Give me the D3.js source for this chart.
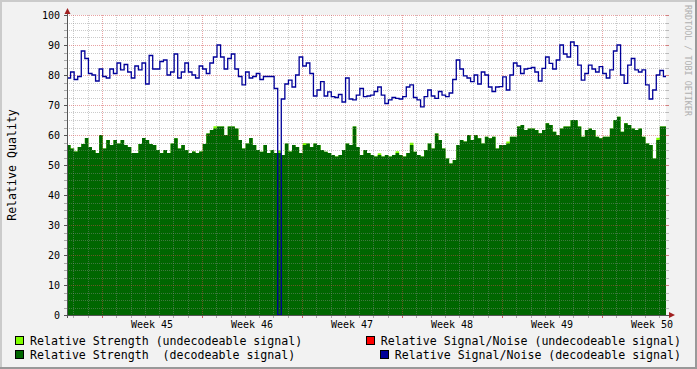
<!DOCTYPE html>
<html>
<head>
<meta charset="utf-8">
<script src="https://cdn.jsdelivr.net/npm/d3@7"></script>
<style>
  html, body { margin: 0; padding: 0; background: #f2f2f2; }
  svg { display: block; }
  text { font-family: "DejaVu Sans Mono", monospace; white-space: pre; }
</style>
</head>
<body>
<div id="container"></div>
<script>
"use strict";

// samples every 6 hours, starting Fri 31 Oct 13:12 UTC
const startTime = new Date(Date.UTC(2008, 9, 31, 13, 12));
const stepHours = 6;

const strengthDecodeable = [
  56.7, 55.5, 54.5, 56, 57, 59, 56, 55, 54, 60, 55.5, 58.3, 56.7, 58.3, 57.2, 58.3, 56.7, 56, 54, 54, 57, 59, 58.3, 57, 56.7, 55, 54, 55,
  54, 57.2, 58.9, 55.5, 56.7, 55, 54, 54.5, 54, 54.5, 57, 60.5, 61.7, 62.2, 62.8, 62.8, 60, 62.8, 62.8, 62.2, 58.3, 55.5, 57.2, 59, 56.7, 55, 54.4, 56.7,
  54, 55, 54, 54, 53.3, 57.2, 54.5, 56.7, 56, 54, 56.7, 57.2, 56, 57.2, 56.7, 55, 54.4, 54, 53.3, 52.8, 53.3, 55, 57.2, 56.7, 62.8, 56, 53.3, 55,
  54, 53.3, 52.8, 53.3, 52.8, 53.3, 52.8, 53.3, 54, 53.3, 52.8, 54, 56.7, 54.4, 53.3, 52.8, 55, 57.2, 55.5, 60.5, 58.3, 55.5, 52.2, 50.5, 51.7, 56.7, 58.3, 57.8,
  60, 58.3, 60, 58.9, 57.2, 59.4, 58.9, 59.4, 55.5, 56.7, 56.7, 57.2, 59.4, 59.4, 62.8, 63.3, 61.7, 62.2, 62.2, 61.7, 60.6, 61.7, 63.9, 63.3, 61.1, 60, 62.2, 62.8,
  62.8, 65, 65, 62.8, 59.4, 61.7, 62.2, 61.7, 59.4, 58.9, 59.4, 59.4, 62.2, 65, 66.1, 61.1, 63.9, 63.3, 62.2, 61.7, 62.2, 59.4, 57.2, 56.7, 52.2, 58.3, 62.8, 62.8
];

// [sample index, extra amount stacked on top of the decodeable strength]
const strengthUndecodeable = [[41, 0.7], [59, 0.8], [66, 0.6], [87, 0.6], [92, 0.6], [96, 0.7], [123, 0.6], [165, 0.8]];

const snDecodeable = [
  79, 81, 78.5, 79.5, 88, 85.5, 80.5, 80, 78, 82, 79.5, 79, 82, 80.5, 84, 81.7, 83.5, 81, 79, 83, 81.7, 84, 77, 86.5, 82, 82, 84.5, 85,
  80, 81, 87, 79, 81, 84, 81, 80, 79, 83, 82, 80.5, 84, 86, 90, 86, 82, 85.5, 87, 82, 79.5, 76.7, 81, 79, 79.5, 80.5, 78.5, 79.5,
  79.5, 79.5, 75.5, 0, 72, 77, 78.3, 76, 80, 86, 83, 84, 80.5, 73, 75, 77.8, 73, 74.4, 72.8, 72.5, 73.5, 71, 79, 72, 71.7, 73.3, 75.5, 72.8,
  73, 73.3, 74.5, 76, 73.3, 70.5, 71.7, 72.5, 72.2, 72, 72.8, 76, 76.7, 72.5, 71.7, 69.4, 72.8, 75, 73, 72.2, 74.5, 73.3, 72.8, 74, 78.5, 85, 82, 79.7,
  79, 77.8, 80, 77, 81, 80, 76, 74.5, 76, 76.1, 79.4, 75, 80, 84, 83, 80.5, 82, 82.2, 82.5, 81, 78, 82.2, 86, 83.9, 82, 85, 90, 87,
  86, 91, 89.8, 83.3, 78.3, 80.5, 83.3, 82, 81, 82.8, 80.5, 79, 81.7, 88, 90, 80, 77.2, 83.3, 85.5, 81.7, 81, 81.7, 76.7, 72, 75, 80, 81.5, 79.5
];

const yTicks = [0, 10, 20, 30, 40, 50, 60, 70, 80, 90, 100];
const yMinorStep = 2.5;

const legendLeft = [
  { label: "Relative Strength (undecodeable signal)", color: "#80ff00" },
  { label: "Relative Strength  (decodeable signal)", color: "#006600" }
];
const legendRight = [
  { label: "Relative Signal/Noise (undecodeable signal)", color: "#ff0000" },
  { label: "Relative Signal/Noise (decodeable signal)", color: "#000099" }
];

const width = 697;
const height = 369;
const plot = { left: 67, right: 666, top: 15, bottom: 315 };

const svg = d3.select("#container")
  .append("svg")
  .attr("width", width)
  .attr("height", height);

// background with 3d-ish border
svg.append("rect").attr("width", width).attr("height", height).attr("fill", "#f2f2f2");
svg.append("path").attr("d", `M0,1H${width} M1,0V${height}`).attr("stroke", "#cbcbcb").attr("stroke-width", 2);
svg.append("path").attr("d", `M0,${height - 1}H${width} M${width - 1},0V${height}`).attr("stroke", "#999").attr("stroke-width", 2);

const hour = 3600 * 1000;
const endTime = new Date(+startTime + strengthDecodeable.length * stepHours * hour);
const timeOf = (i) => new Date(+startTime + i * stepHours * hour);

const x = d3.scaleUtc().domain([startTime, endTime]).range([plot.left, plot.left + 600]);
const y = d3.scaleLinear().domain([0, 100]).range([plot.bottom, plot.top]);

svg.append("rect")
  .attr("x", plot.left).attr("y", plot.top)
  .attr("width", plot.right - plot.left).attr("height", plot.bottom - plot.top)
  .attr("fill", "#ffffff");

svg.append("clipPath").attr("id", "clip")
  .append("rect")
  .attr("x", plot.left).attr("y", plot.top - 2)
  .attr("width", plot.right - plot.left).attr("height", plot.bottom - plot.top + 2);

const g = svg.append("g").attr("clip-path", "url(#clip)");

// step data, with a closing point so the last sample gets its width
const toSteps = (arr) => {
  const pts = arr.map((v, i) => ({ t: timeOf(i), v: v }));
  pts.push({ t: endTime, v: arr[arr.length - 1] });
  return pts;
};

const extra = new Map(strengthUndecodeable);
const strengthTotal = strengthDecodeable.map((v, i) => v + (extra.get(i) || 0));

const area = d3.area()
  .x((d) => x(d.t))
  .y0(y(0))
  .y1((d) => y(d.v))
  .curve(d3.curveStepAfter);

g.append("path").datum(toSteps(strengthTotal)).attr("d", area).attr("fill", "#80ff00");
g.append("path").datum(toSteps(strengthDecodeable)).attr("d", area).attr("fill", "#006600");

// grid on top of the areas
const minorColor = "rgba(140,140,140,0.45)";
const majorColor = "rgba(210,70,70,0.5)";

const yMinor = d3.range(0, 100 + 0.001, yMinorStep).filter((v) => v % 10 !== 0);
g.selectAll("line.yminor").data(yMinor).enter().append("line")
  .attr("x1", plot.left).attr("x2", plot.right)
  .attr("y1", (d) => Math.round(y(d)) + 0.5).attr("y2", (d) => Math.round(y(d)) + 0.5)
  .attr("stroke", minorColor).attr("stroke-dasharray", "1,1");

const days = d3.utcDay.range(startTime, endTime).filter((d) => d.getUTCDay() !== 1);
g.selectAll("line.xminor").data(days).enter().append("line")
  .attr("x1", (d) => Math.round(x(d)) + 0.5).attr("x2", (d) => Math.round(x(d)) + 0.5)
  .attr("y1", plot.top).attr("y2", plot.bottom)
  .attr("stroke", minorColor).attr("stroke-dasharray", "1,1");

g.selectAll("line.ymajor").data(yTicks.slice(1)).enter().append("line")
  .attr("x1", plot.left).attr("x2", plot.right)
  .attr("y1", (d) => Math.round(y(d)) + 0.5).attr("y2", (d) => Math.round(y(d)) + 0.5)
  .attr("stroke", majorColor).attr("stroke-dasharray", "1,1");

const mondays = d3.utcMonday.range(startTime, endTime);
g.selectAll("line.xmajor").data(mondays).enter().append("line")
  .attr("x1", (d) => Math.round(x(d)) + 0.5).attr("x2", (d) => Math.round(x(d)) + 0.5)
  .attr("y1", plot.top).attr("y2", plot.bottom)
  .attr("stroke", majorColor).attr("stroke-dasharray", "1,1");

// signal / noise line
const line = d3.line()
  .x((d) => x(d.t))
  .y((d) => y(d.v))
  .curve(d3.curveStepAfter);

g.append("path").datum(toSteps(snDecodeable)).attr("d", line)
  .attr("fill", "none").attr("stroke", "#000099").attr("stroke-width", 1.3);

// ticks outside the plot
const allY = yTicks.concat(yMinor);
svg.selectAll("line.ytickl").data(allY).enter().append("line")
  .attr("x1", plot.left - 3).attr("x2", plot.left)
  .attr("y1", (d) => Math.round(y(d)) + 0.5).attr("y2", (d) => Math.round(y(d)) + 0.5)
  .attr("stroke", (d) => d % 10 === 0 ? "#555" : "#aaa");
svg.selectAll("line.ytickr").data(allY).enter().append("line")
  .attr("x1", plot.right).attr("x2", plot.right + 3)
  .attr("y1", (d) => Math.round(y(d)) + 0.5).attr("y2", (d) => Math.round(y(d)) + 0.5)
  .attr("stroke", (d) => d % 10 === 0 ? "#d08080" : "#bbb");
svg.selectAll("line.xtick").data(days.concat(mondays)).enter().append("line")
  .attr("x1", (d) => Math.round(x(d)) + 0.5).attr("x2", (d) => Math.round(x(d)) + 0.5)
  .attr("y1", plot.bottom).attr("y2", plot.bottom + 3)
  .attr("stroke", (d) => d.getUTCDay() === 1 ? "#d06060" : "#aaa");

// axes with arrows
svg.append("line").attr("x1", plot.left + 0.5).attr("x2", plot.left + 0.5)
  .attr("y1", plot.bottom + 3).attr("y2", 9).attr("stroke", "#555");
svg.append("line").attr("x1", plot.left - 3).attr("x2", 671)
  .attr("y1", plot.bottom + 0.5).attr("y2", plot.bottom + 0.5).attr("stroke", "#555");
svg.append("path").attr("d", "M64.5,14 L70.5,14 L67.5,8 Z").attr("fill", "#a02020");
svg.append("path").attr("d", "M669,312 L669,318 L675,315 Z").attr("fill", "#a02020");

// y labels
svg.selectAll("text.ylab").data(yTicks).enter().append("text")
  .attr("x", 60).attr("y", (d) => y(d) + 3.5)
  .attr("text-anchor", "end").attr("font-size", "10px").attr("fill", "#000")
  .text((d) => d);

// x labels, centred on the middle of each week
const fmtWeek = d3.utcFormat("Week %V");
svg.selectAll("text.xlab").data(mondays).enter().append("text")
  .attr("x", (d) => x(new Date(+d + 3.5 * 24 * hour)))
  .attr("y", 327.5)
  .attr("text-anchor", "middle").attr("font-size", "10px").attr("fill", "#000")
  .text((d) => fmtWeek(d));

// vertical axis title
svg.append("text")
  .attr("transform", `translate(16,${(plot.top + plot.bottom) / 2}) rotate(-90)`)
  .attr("text-anchor", "middle").attr("font-size", "11.6px").attr("fill", "#000")
  .text("Relative Quality");

// watermark
svg.append("text")
  .attr("transform", "translate(685,5) rotate(90)")
  .attr("font-size", "8.4px").attr("fill", "#b0b0b0")
  .text("RRDTOOL / TOBI OETIKER");

// legend
const rowY = [345, 359];
legendLeft.forEach((item, i) => {
  svg.append("rect").attr("x", 15.5).attr("y", rowY[i] - 8.5).attr("width", 8).attr("height", 8)
    .attr("fill", item.color).attr("stroke", "#000");
  svg.append("text").attr("x", 30).attr("y", rowY[i])
    .attr("font-size", "11.6px").attr("fill", "#000").text(item.label);
});
legendRight.forEach((item, i) => {
  const t = svg.append("text").attr("x", 681).attr("y", rowY[i])
    .attr("text-anchor", "end").attr("font-size", "11.6px").attr("fill", "#000").text(item.label);
  const w = t.node().getComputedTextLength();
  svg.append("rect").attr("x", Math.round(681 - w - 15) + 0.5).attr("y", rowY[i] - 8.5).attr("width", 8).attr("height", 8)
    .attr("fill", item.color).attr("stroke", "#000");
});
</script>
</body>
</html>
